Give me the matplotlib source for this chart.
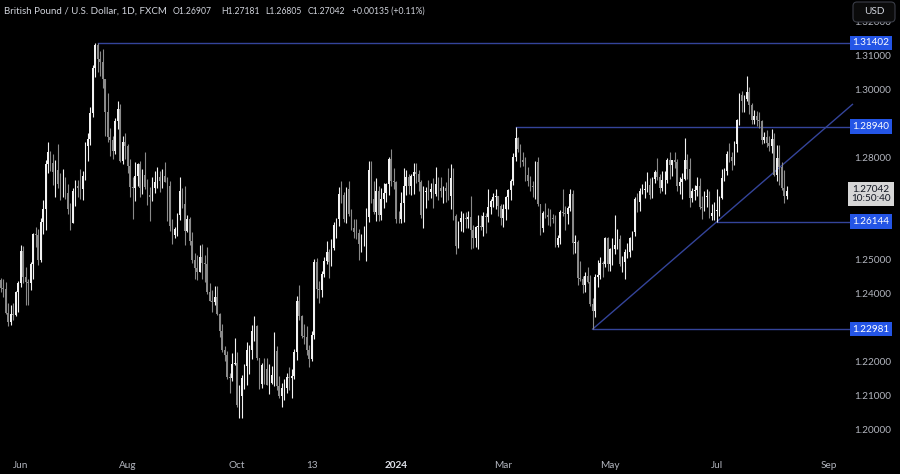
import numpy as np
import pandas as pd
import matplotlib
matplotlib.use('Agg')
import matplotlib.pyplot as plt
import matplotlib.transforms as mtransforms
from matplotlib.patches import FancyBboxPatch

plt.rcParams['font.family'] = ['Lato', 'DejaVu Sans']

# GBP/USD daily candles (FXCM)
first_open = 1.2443
last_open = 1.26907

close = [
    # May 2023
    1.2420, 1.2415, 1.2346, 1.2319, 1.2343, 1.2340, 1.2406, 1.2433,
    # Jun
    1.2527, 1.2452, 1.2438, 1.2435, 1.2489, 1.2579, 1.2576, 1.2502, 1.2612, 1.2652, 1.2785,
    1.2818, 1.2788, 1.2761, 1.2765, 1.2726, 1.2712, 1.2713, 1.2700, 1.2650, 1.2610, 1.2703,
    # Jul
    1.2718, 1.2712, 1.2709, 1.2749, 1.2836, 1.2856, 1.2933, 1.3066, 1.3135, 1.3092, 1.3084,
    1.3035, 1.2937, 1.2864, 1.2853, 1.2822, 1.2910, 1.2945, 1.2792, 1.2849, 1.2836,
    # Aug
    1.2778, 1.2716, 1.2712, 1.2749, 1.2784, 1.2712, 1.2752, 1.2717, 1.2694, 1.2688, 1.2712,
    1.2732, 1.2746, 1.2734, 1.2750, 1.2732, 1.2720, 1.2600, 1.2575, 1.2593, 1.2635, 1.2704, 1.2667,
    # Sep
    1.2587, 1.2622, 1.2558, 1.2502, 1.2477, 1.2465, 1.2509, 1.2494, 1.2490, 1.2408, 1.2380,
    1.2377, 1.2394, 1.2344, 1.2294, 1.2238, 1.2222, 1.2156, 1.2153, 1.2195, 1.2198,
    # Oct
    1.2075, 1.2101, 1.2153, 1.2190, 1.2236, 1.2236, 1.2294, 1.2306, 1.2212, 1.2136, 1.2192,
    1.2180, 1.2135, 1.2140, 1.2164, 1.2234, 1.2132, 1.2101, 1.2125, 1.2126, 1.2156, 1.2155,
    # Nov
    1.2160, 1.2230, 1.2380, 1.2337, 1.2278, 1.2276, 1.2238, 1.2209, 1.2281, 1.2497, 1.2417,
    1.2412, 1.2460, 1.2499, 1.2526, 1.2496, 1.2536, 1.2604, 1.2621, 1.2696, 1.2694, 1.2623,
    # Dec
    1.2710, 1.2636, 1.2595, 1.2584, 1.2580, 1.2549, 1.2560, 1.2560, 1.2629, 1.2766,
    1.2680, 1.2644, 1.2705, 1.2633, 1.2680, 1.2700, 1.2726, 1.2800, 1.2735, 1.2730,
    # Jan 2024
    1.2622, 1.2621, 1.2670, 1.2720, 1.2747, 1.2720, 1.2750, 1.2760, 1.2753, 1.2731, 1.2633,
    1.2701, 1.2704, 1.2702, 1.2709, 1.2697, 1.2724, 1.2713, 1.2703, 1.2712, 1.2705, 1.2689,
    # Feb
    1.2743, 1.2632, 1.2543, 1.2612, 1.2624, 1.2626, 1.2623, 1.2627, 1.2591, 1.2567, 1.2598,
    1.2600, 1.2599, 1.2630, 1.2628, 1.2656, 1.2674, 1.2686, 1.2690, 1.2660, 1.2624,
    # Mar
    1.2652, 1.2686, 1.2708, 1.2733, 1.2804, 1.2859, 1.2829, 1.2795, 1.2791, 1.2752, 1.2734,
    1.2720, 1.2716, 1.2789, 1.2665, 1.2597, 1.2640, 1.2635, 1.2627, 1.2625, 1.2622,
    # Apr
    1.2547, 1.2565, 1.2644, 1.2639, 1.2637, 1.2655, 1.2695, 1.2551, 1.2554, 1.2449, 1.2446,
    1.2429, 1.2455, 1.2438, 1.2371, 1.2352, 1.2450, 1.2457, 1.2494, 1.2491, 1.2565, 1.2491,
    # May
    1.2533, 1.2534, 1.2545, 1.2562, 1.2490, 1.2496, 1.2526, 1.2526, 1.2565, 1.2584, 1.2681,
    1.2671, 1.2705, 1.2706, 1.2710, 1.2722, 1.2692, 1.2740, 1.2759, 1.2745, 1.2712, 1.2737, 1.2737,
    # Jun
    1.2796, 1.2782, 1.2795, 1.2791, 1.2720, 1.2730, 1.2741, 1.2795, 1.2770, 1.2685,
    1.2705, 1.2708, 1.2718, 1.2657, 1.2654, 1.2686, 1.2690, 1.2631, 1.2640, 1.2645,
    # Jul
    1.2649, 1.2685, 1.2742, 1.2762, 1.2814, 1.2804, 1.2794, 1.2843, 1.2912, 1.2987, 1.2968,
    1.2974, 1.2995, 1.2956, 1.2913, 1.2925, 1.2912, 1.2910, 1.2853, 1.2864, 1.2847, 1.2836, 1.2856,
    # Aug
    1.2751, 1.2802, 1.2776, 1.2712, 1.2691, 1.27042,
]

high = [
    1.2448, 1.2447, 1.2436, 1.2376, 1.2369, 1.2375, 1.2410, 1.2439,
    1.2545, 1.2544, 1.2482, 1.2445, 1.2495, 1.2580, 1.2599, 1.2593, 1.2626, 1.2677, 1.2796,
    1.2848, 1.2821, 1.2812, 1.2797, 1.2842, 1.2757, 1.2769, 1.2746, 1.2724, 1.2669, 1.2713,
    1.2737, 1.2737, 1.2768, 1.2763, 1.2849, 1.2875, 1.2951, 1.3075, 1.3139, 1.31402, 1.3117,
    1.3123, 1.3003, 1.2993, 1.2891, 1.2866, 1.2918, 1.2970, 1.2960, 1.2866, 1.2876,
    1.2843, 1.2799, 1.2746, 1.2789, 1.2787, 1.2794, 1.2770, 1.2818, 1.2740, 1.2717, 1.2745,
    1.2763, 1.2774, 1.2762, 1.2768, 1.2790, 1.2747, 1.2733, 1.2621, 1.2599, 1.2640, 1.2746, 1.2712,
    1.2719, 1.2634, 1.2629, 1.2583, 1.2522, 1.2515, 1.2547, 1.2548, 1.2515, 1.2540, 1.2435,
    1.2412, 1.2425, 1.2424, 1.2346, 1.2312, 1.2248, 1.2233, 1.2170, 1.2229, 1.2271,
    1.2230, 1.2133, 1.2164, 1.2196, 1.2259, 1.2250, 1.2309, 1.2337, 1.2310, 1.2214, 1.2199,
    1.2213, 1.2214, 1.2196, 1.2191, 1.2289, 1.2249, 1.2159, 1.2139, 1.2152, 1.2169, 1.2188,
    1.2182, 1.2241, 1.2396, 1.2429, 1.2341, 1.2313, 1.2306, 1.2251, 1.2292, 1.2505, 1.2507,
    1.2441, 1.2470, 1.2509, 1.2558, 1.2534, 1.2562, 1.2614, 1.2624, 1.2716, 1.2733, 1.2702,
    1.2716, 1.2733, 1.2652, 1.2622, 1.2621, 1.2592, 1.2578, 1.2601, 1.2655, 1.2794,
    1.2793, 1.2733, 1.2744, 1.2718, 1.2714, 1.2727, 1.2728, 1.2805, 1.2827, 1.2772,
    1.2735, 1.2646, 1.2702, 1.2772, 1.2765, 1.2753, 1.2753, 1.2786, 1.2786, 1.2766, 1.2738,
    1.2719, 1.2715, 1.2736, 1.2728, 1.2743, 1.2775, 1.2746, 1.2745, 1.2718, 1.2731, 1.2773,
    1.2785, 1.2772, 1.2636, 1.2616, 1.2645, 1.2641, 1.2644, 1.2646, 1.2690, 1.2605, 1.2601,
    1.2635, 1.2633, 1.2642, 1.2640, 1.2709, 1.2680, 1.2700, 1.2709, 1.2690, 1.2667,
    1.2667, 1.2690, 1.2710, 1.2740, 1.2815, 1.28940, 1.2864, 1.2844, 1.2819, 1.2803, 1.2774,
    1.2748, 1.2735, 1.2794, 1.2803, 1.2665, 1.2646, 1.2668, 1.2655, 1.2650, 1.2637,
    1.2634, 1.2575, 1.2648, 1.2709, 1.2660, 1.2660, 1.2709, 1.2708, 1.2575, 1.2559, 1.2499,
    1.2453, 1.2466, 1.2481, 1.2458, 1.2390, 1.2460, 1.2502, 1.2510, 1.2499, 1.2570, 1.2568,
    1.2536, 1.2566, 1.2634, 1.2594, 1.2574, 1.2512, 1.2534, 1.2550, 1.2568, 1.2588, 1.2686,
    1.2700, 1.2712, 1.2725, 1.2733, 1.2761, 1.2744, 1.2745, 1.2765, 1.2802, 1.2754, 1.2762, 1.2764,
    1.2801, 1.2818, 1.2796, 1.2818, 1.2800, 1.2745, 1.2757, 1.2860, 1.2814, 1.2802,
    1.2714, 1.2721, 1.2747, 1.2743, 1.2690, 1.2703, 1.2710, 1.2705, 1.2665, 1.2672,
    1.2709, 1.2690, 1.2770, 1.2771, 1.2823, 1.2846, 1.2818, 1.2852, 1.2916, 1.2992, 1.2998,
    1.2986, 1.3044, 1.3010, 1.2962, 1.2944, 1.2940, 1.2937, 1.2914, 1.2877, 1.2884, 1.2866, 1.2887,
    1.2874, 1.2840, 1.2840, 1.2791, 1.2765, 1.27181,
]

low = [
    1.2406, 1.2394, 1.2344, 1.2308, 1.2310, 1.2324, 1.2337, 1.2349,
    1.2421, 1.2434, 1.2369, 1.2368, 1.2414, 1.2446, 1.2539, 1.2487, 1.2495, 1.2578, 1.2591,
    1.2758, 1.2762, 1.2723, 1.2688, 1.2713, 1.2677, 1.2688, 1.2682, 1.2636, 1.2590, 1.2612,
    1.2660, 1.2687, 1.2680, 1.2677, 1.2738, 1.2792, 1.2839, 1.2922, 1.3039, 1.3055, 1.3043,
    1.3008, 1.2866, 1.2850, 1.2808, 1.2798, 1.2813, 1.2888, 1.2790, 1.2785, 1.2800,
    1.2758, 1.2687, 1.2621, 1.2676, 1.2720, 1.2688, 1.2697, 1.2711, 1.2664, 1.2616, 1.2675,
    1.2700, 1.2712, 1.2701, 1.2713, 1.2730, 1.2615, 1.2587, 1.2548, 1.2567, 1.2573, 1.2618, 1.2653,
    1.2547, 1.2583, 1.2546, 1.2492, 1.2446, 1.2444, 1.2466, 1.2445, 1.2437, 1.2401, 1.2380,
    1.2348, 1.2369, 1.2340, 1.2274, 1.2231, 1.2204, 1.2152, 1.2111, 1.2147, 1.2194,
    1.2070, 1.2037, 1.2037, 1.2123, 1.2133, 1.2167, 1.2210, 1.2264, 1.2207, 1.2123, 1.2125,
    1.2136, 1.2133, 1.2107, 1.2136, 1.2131, 1.2118, 1.2096, 1.2069, 1.2091, 1.2111, 1.2119,
    1.2097, 1.2151, 1.2207, 1.2326, 1.2272, 1.2254, 1.2223, 1.2187, 1.2205, 1.2268, 1.2390,
    1.2375, 1.2394, 1.2452, 1.2491, 1.2449, 1.2485, 1.2530, 1.2565, 1.2600, 1.2668, 1.2614,
    1.2611, 1.2632, 1.2590, 1.2567, 1.2562, 1.2500, 1.2525, 1.2543, 1.2499, 1.2614,
    1.2668, 1.2638, 1.2617, 1.2617, 1.2618, 1.2654, 1.2673, 1.2693, 1.2719, 1.2709,
    1.2611, 1.2611, 1.2611, 1.2613, 1.2693, 1.2697, 1.2692, 1.2695, 1.2728, 1.2705, 1.2625,
    1.2597, 1.2655, 1.2677, 1.2684, 1.2654, 1.2689, 1.2677, 1.2686, 1.2670, 1.2672, 1.2677,
    1.2652, 1.2620, 1.2518, 1.2538, 1.2588, 1.2585, 1.2597, 1.2597, 1.2535, 1.2536, 1.2541,
    1.2533, 1.2589, 1.2571, 1.2580, 1.2614, 1.2637, 1.2656, 1.2650, 1.2632, 1.2605,
    1.2599, 1.2620, 1.2652, 1.2677, 1.2721, 1.2794, 1.2818, 1.2774, 1.2778, 1.2733, 1.2720,
    1.2705, 1.2686, 1.2682, 1.2660, 1.2575, 1.2585, 1.2625, 1.2603, 1.2600, 1.2610,
    1.2540, 1.2540, 1.2548, 1.2630, 1.2590, 1.2607, 1.2646, 1.2520, 1.2521, 1.2427, 1.2439,
    1.2404, 1.2408, 1.2435, 1.2366, 1.22981, 1.2335, 1.2423, 1.2446, 1.2451, 1.2482, 1.2470,
    1.2468, 1.2486, 1.2520, 1.2535, 1.2484, 1.2467, 1.2446, 1.2506, 1.2509, 1.2530, 1.2572,
    1.2643, 1.2647, 1.2695, 1.2685, 1.2701, 1.2681, 1.2684, 1.2729, 1.2736, 1.2698, 1.2705, 1.2697,
    1.2729, 1.2741, 1.2750, 1.2771, 1.2705, 1.2695, 1.2681, 1.2736, 1.2741, 1.2656,
    1.2673, 1.2679, 1.2690, 1.2650, 1.2623, 1.2646, 1.2656, 1.2625, 1.2618, 1.2620,
    1.26144, 1.2632, 1.2680, 1.2733, 1.2751, 1.2790, 1.2765, 1.2780, 1.2818, 1.2898, 1.2936,
    1.2937, 1.2968, 1.2932, 1.2902, 1.2902, 1.2897, 1.2890, 1.2844, 1.2846, 1.2834, 1.2823, 1.2815,
    1.2749, 1.2735, 1.2723, 1.2706, 1.2670, 1.26805,
]

holidays = ['2023-12-25', '2024-01-01']
days = pd.bdate_range('2023-05-22', '2024-09-06')
days = days[~days.isin(pd.to_datetime(holidays))]

# drawn levels and trendline
level_values = [1.31402, 1.28940, 1.26144, 1.22981]
level_from = ['2023-07-14', '2024-03-08', '2024-07-01', '2024-04-22']
trend_dates = ['2024-04-22', '2024-07-01']
trend_prices = [1.22981, 1.26144]

tick_dates = ['2023-06-01', '2023-08-01', '2023-10-02', '2023-11-13', '2024-01-02',
              '2024-03-01', '2024-05-01', '2024-07-01', '2024-09-02']
tick_labels = ['Jun', 'Aug', 'Oct', '13', '2024', 'Mar', 'May', 'Jul', 'Sep']
# 1.23 / 1.27 / 1.29 sit under the label boxes, so they are not shown
price_ticks = [1.20, 1.21, 1.22, 1.24, 1.25, 1.26, 1.28, 1.30, 1.31, 1.32]

header_title = 'British Pound / U.S. Dollar, 1D, FXCM'
header_parts = ['O1.26907', 'H1.27181', 'L1.26805', 'C1.27042', '+0.00135 (+0.11%)']
header_x = [173, 221, 265, 308, 352]


def bar_of(d):
    return days.get_loc(pd.Timestamp(d))


W, H = 900, 474
fig = plt.figure(figsize=(W / 100, H / 100), dpi=100, facecolor='black')
ax = fig.add_axes([0, 26 / H, 845 / W, 448 / H])
ax.set_facecolor('black')
for s in ax.spines.values():
    s.set_visible(False)
ax.set_xticks([])
ax.set_yticks([])

c = np.array(close)
hi = np.array(high)
lo = np.array(low)
o = np.r_[first_open, c[:-1]]
o[-1] = last_open
x = np.arange(len(c))
up = c >= o
col = np.where(up, '#f2f2f2', '#8a8a8a')

ax.vlines(x, np.minimum(lo, np.minimum(o, c)), np.maximum(hi, np.maximum(o, c)),
          colors=col, lw=0.8, zorder=3)
ax.bar(x, np.maximum(np.abs(c - o), 0.00008), bottom=np.minimum(o, c), width=0.62,
       color=col, linewidth=0, zorder=4)

xmax = 339.5
ax.set_xlim(-0.3, xmax)
ax.set_ylim(1.19485, 1.32662)

line_col = '#34449a'
for v, d in zip(level_values, level_from):
    ax.plot([bar_of(d), xmax + 3], [v, v], color=line_col, lw=1.0, zorder=2, clip_on=False)

t0, t1 = bar_of(trend_dates[0]), bar_of(trend_dates[1])
slope = (trend_prices[1] - trend_prices[0]) / (t1 - t0)
tx = np.array([t0, xmax + 3])
ax.plot(tx, trend_prices[0] + slope * (tx - t0), color=line_col, lw=1.0, zorder=2, clip_on=False)

# right price scale
ytr = mtransforms.blended_transform_factory(fig.transFigure, ax.transData)
for p in price_ticks:
    fig.text(873 / W, p, f'{p:.5f}', transform=ytr, color='#b2b5be', fontsize=7.2,
             ha='center', va='center', zorder=5)
for v in level_values:
    fig.text(871 / W, v, f'{v:.5f}', transform=ytr, color='white', fontsize=7.2,
             ha='center', va='center', zorder=8,
             bbox=dict(boxstyle='square,pad=0.28', fc='#2455e6', ec='none'))
fig.text(871 / W, close[-1] - 0.0008, f'{close[-1]:.5f}\n10:50:40', transform=ytr,
         color='#131722', fontsize=7.2, ha='center', va='center', zorder=8, linespacing=1.05,
         bbox=dict(boxstyle='square,pad=0.28', fc='#d6d6d6', ec='none'))

# time scale
xtr = mtransforms.blended_transform_factory(ax.transData, fig.transFigure)
for d, lab in zip(tick_dates, tick_labels):
    bold = lab == '2024'
    fig.text(bar_of(d), 1 - 466 / H, lab, transform=xtr, ha='center', va='center',
             fontsize=7.2, color='#e0e3eb' if bold else '#b2b5be',
             fontweight='bold' if bold else 'normal')

# header
fig.text(4 / W, 1 - 11 / H, header_title, color='#d1d4dc', fontsize=7.0, va='center', ha='left')
for px, part in zip(header_x, header_parts):
    fig.text(px / W, 1 - 11 / H, part, color='#d1d4dc', fontsize=6.2, va='center', ha='left')

# USD button
btn = FancyBboxPatch((8.53, 4.74 - 0.22), 0.42, 0.2, boxstyle='round,pad=0,rounding_size=0.04',
                     transform=fig.dpi_scale_trans, fc='#0b0b0b', ec='#3a3d47', lw=0.8, zorder=9)
fig.patches.append(btn)
fig.text(8.74 / 9, 1 - 12 / H, 'USD', color='#d1d4dc', fontsize=7.2, ha='center', va='center',
         zorder=10)

fig.savefig('out.png', dpi=100, facecolor='black')
